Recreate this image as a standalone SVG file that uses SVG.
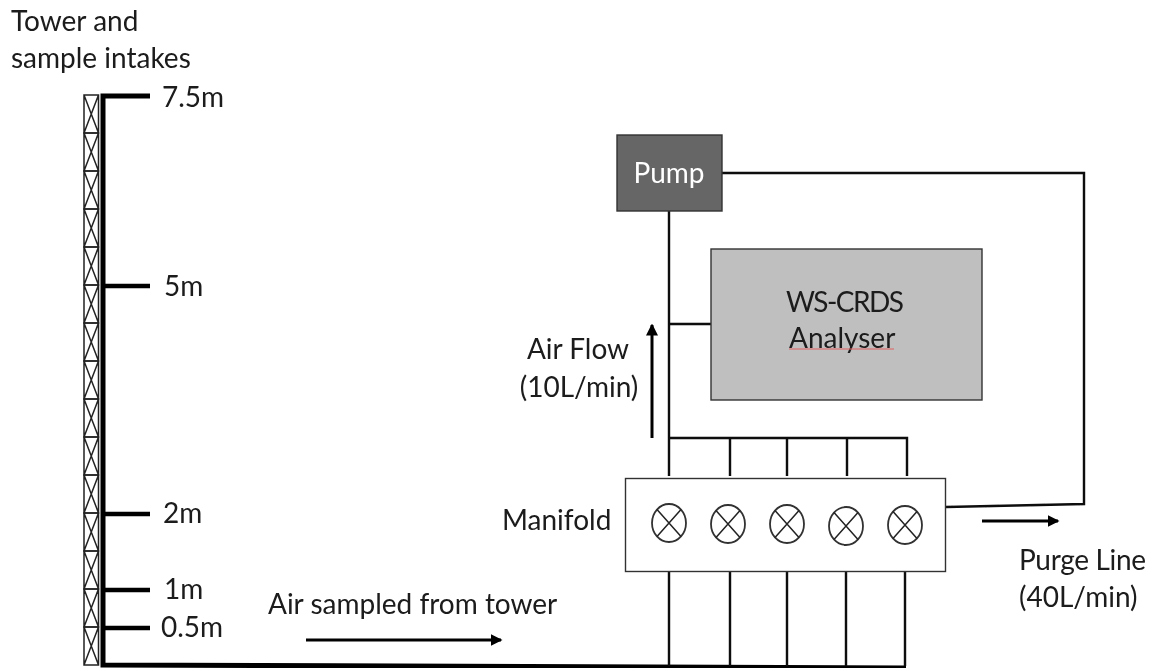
<svg xmlns="http://www.w3.org/2000/svg" width="1153" height="671" viewBox="0 0 1153 671">
<style>
text{font-family:"Lato","Open Sans",sans-serif;font-size:28px;fill:#1a1a1a}
.t{fill:none;stroke:#000;stroke-width:4.5}
.p{fill:none;stroke:#111;stroke-width:2.4}
.a{fill:none;stroke:#000;stroke-width:3}
.l{fill:none;stroke:#222;stroke-width:1.5}
.v{fill:#fff;stroke:#333;stroke-width:1.8}
.box{stroke:#333;stroke-width:1.4}
</style>
<defs>
<filter id="soft" x="0" y="0" width="100%" height="100%"><feGaussianBlur stdDeviation="0.45"/></filter>
<marker id="h" markerWidth="4" markerHeight="4" refX="3.500" refY="2" orient="auto" markerUnits="strokeWidth"><path d="M0 0L4 2L0 4Z" fill="#000"/></marker>
<g id="seg"><path class="l" d="M0 0H14.500V38H0ZM0 0L14.500 38M14.500 0L0 38"/></g>
<g id="valve"><ellipse rx="17" ry="19" class="v"/><path class="l" d="M-12 -13.500L12 13.500M12 -13.500L-12 13.500"/></g>
</defs>
<rect width="1153" height="671" fill="#fff"/>
<g filter="url(#soft)">
<g id="tower">
<use href="#seg" x="84" y="95"/><use href="#seg" x="84" y="133"/><use href="#seg" x="84" y="171"/><use href="#seg" x="84" y="209"/><use href="#seg" x="84" y="247"/><use href="#seg" x="84" y="285"/><use href="#seg" x="84" y="323"/><use href="#seg" x="84" y="361"/><use href="#seg" x="84" y="399"/><use href="#seg" x="84" y="437"/><use href="#seg" x="84" y="475"/><use href="#seg" x="84" y="513"/><use href="#seg" x="84" y="551"/><use href="#seg" x="84" y="589"/><use href="#seg" x="84" y="627"/>
</g>
<g id="connectors">
<path class="t" d="M150 96H103V665L906 668" style="stroke-width:5"/>
<path class="t" d="M103 286H150M103 514H150M103 590H150M103 628H150"/>
<path class="p" d="M669 211V476M669 324H711M669 438H907V476M730 438V476M787 438V476M847 438V476"/>
<path class="p" d="M669 572V666M730 572V666M787 572V666M846 572V666M905 572V666"/>
<path class="p" d="M722 173H1084V504L946 507"/>
<path class="a" marker-end="url(#h)" d="M652 438V325"/>
<path class="a" marker-end="url(#h)" d="M982 521H1058"/>
<path class="a" marker-end="url(#h)" d="M306 640H501"/>
</g>
<g id="pump"><rect class="box" x="617" y="135" width="105" height="76" fill="#666"/><text x="669" y="183" text-anchor="middle" style="fill:#fff">Pump</text></g>
<g id="analyser"><rect class="box" x="711" y="249" width="271" height="151" fill="#bfbfbf"/><text x="786" y="312" textLength="118">WS-CRDS</text><text x="789" y="348">Analyser</text><path d="M789 349H894" stroke="#e06060" stroke-width="1" fill="none"/></g>
<g id="manifold"><rect class="box" x="625.500" y="478.500" width="320" height="93" fill="#fff"/>
<use href="#valve" x="669" y="523"/><use href="#valve" x="728" y="524"/><use href="#valve" x="787" y="524"/><use href="#valve" x="846" y="526"/><use href="#valve" x="905" y="525"/></g>
<g id="labels">
<text x="11" y="31">Tower and</text><text x="11" y="68">sample intakes</text>
<text x="162" y="107">7.5m</text><text x="164" y="296">5m</text><text x="163" y="523">2m</text><text x="164" y="599">1m</text><text x="161" y="637">0.5m</text>
<text x="268" y="614">Air sampled from tower</text>
<text x="578" y="359" text-anchor="middle">Air Flow</text><text x="579" y="397" text-anchor="middle">(10L/min)</text>
<text x="502" y="530">Manifold</text>
<text x="1019" y="570" textLength="127">Purge Line</text><text x="1019" y="607">(40L/min)</text>
</g>
</g>
</svg>
